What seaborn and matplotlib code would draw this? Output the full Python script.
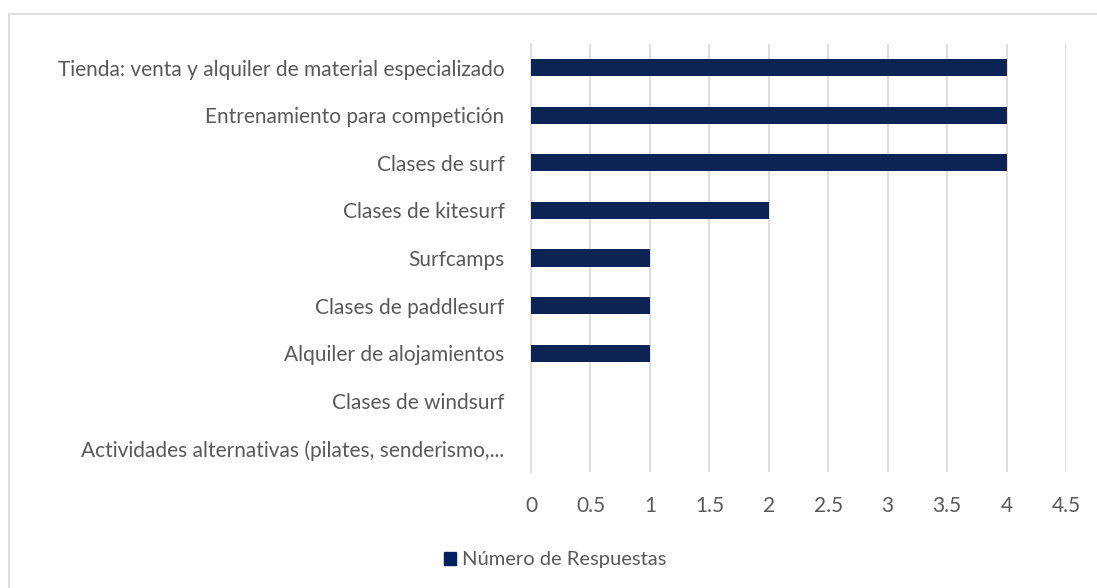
import numpy as np
import matplotlib.pyplot as plt
import matplotlib.patches as mpatches
import seaborn as sns
import pandas as pd

categorias = [
    "Tienda: venta y alquiler de material especializado",
    "Entrenamiento para competición",
    "Clases de surf",
    "Clases de kitesurf",
    "Surfcamps",
    "Clases de paddlesurf",
    "Alquiler de alojamientos",
    "Clases de windsurf",
    "Actividades alternativas (pilates, senderismo,...",
]
respuestas = [4, 4, 4, 2, 1, 1, 1, 0, 0]
xticks = [0, 0.5, 1, 1.5, 2, 2.5, 3, 3.5, 4, 4.5]

sns.set_style("white")
plt.rcParams['font.family'] = ['Lato', 'DejaVu Sans']

df = pd.DataFrame({'categoria': categorias, 'respuestas': respuestas})

fig = plt.figure(figsize=(10.97, 5.88), dpi=100)
ax = fig.add_axes([531 / 1097, 1 - 472 / 588, 535 / 1097, 428 / 588])

# chart border
fig.patches.append(mpatches.Rectangle((9 / 1097, -0.01), 1.1, 1 - 14 / 588 + 0.01,
                                      transform=fig.transFigure, fill=False,
                                      edgecolor='#d9d9d9', linewidth=1.2))

sns.barplot(data=df, x='respuestas', y='categoria', orient='h', color='#002060',
            width=0.36, linewidth=0, ax=ax, zorder=3)

ax.set_xlim(0, 4.5)
ax.set_xticks(xticks)
ax.set_xticklabels([f"{t:g}" for t in xticks])
ax.xaxis.grid(True, color='#d9d9d9', linewidth=1.2, zorder=0)
ax.yaxis.grid(False)
for s in ['top', 'right', 'bottom']:
    ax.spines[s].set_visible(False)
ax.spines['left'].set_color('#d9d9d9')
ax.spines['left'].set_linewidth(1.2)
ax.set_xlabel('')
ax.set_ylabel('')
ax.tick_params(axis='both', length=0, labelsize=15, colors='#595959')
ax.tick_params(axis='x', pad=17)
ax.tick_params(axis='y', pad=19)

handle = mpatches.Patch(color='#002060', label='Número de Respuestas')
fig.legend(handles=[handle], loc='center', bbox_to_anchor=(555 / 1097, 1 - 560 / 588),
           frameon=False, fontsize=14.5, handlelength=0.6, handleheight=0.6,
           handletextpad=0.3, labelcolor='#595959')

fig.savefig('out.png', dpi=100)
